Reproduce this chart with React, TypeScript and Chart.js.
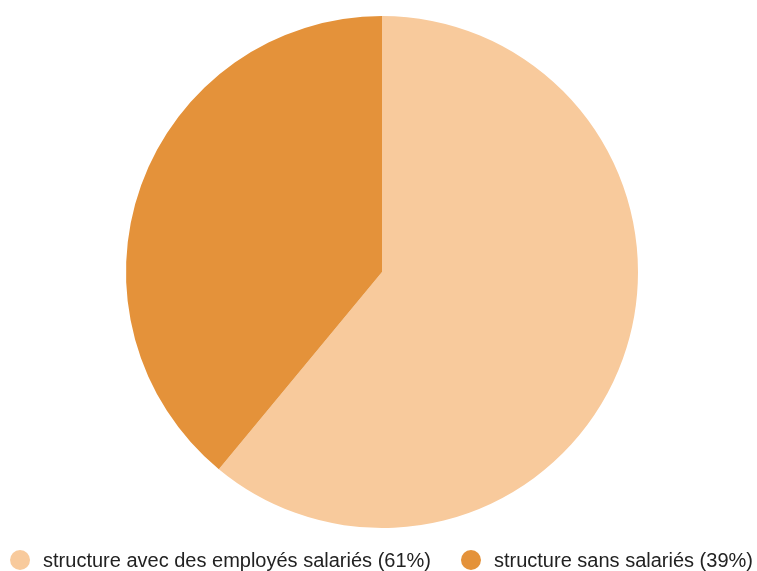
import React, { useEffect, useRef } from "react";
import { Chart, registerables } from "chart.js";

Chart.register(...registerables);

const categories = [
  "structure avec des employés salariés (61%)",
  "structure sans salariés (39%)",
];
const values = [61, 39];
const colors = ["#F8CA9C", "#E4923A"];

const legendPlugin = {
  id: "customLegend",
  afterDraw(chart: any) {
    const ctx = chart.ctx;
    const font = "20px 'Liberation Sans', Arial, sans-serif";
    ctx.save();
    ctx.font = font;
    const r = 10;
    const textGap = 23;
    const itemGap = 40;
    const widths = categories.map((c) => ctx.measureText(c).width);
    let total = r;
    widths.forEach((w, i) => {
      total += textGap + w;
      if (i < widths.length - 1) total += itemGap;
    });
    const y = 560;
    let cx = (chart.width - total) / 2 + 3 + r;
    categories.forEach((c, i) => {
      ctx.beginPath();
      ctx.arc(cx, y, r, 0, Math.PI * 2);
      ctx.fillStyle = colors[i];
      ctx.fill();
      ctx.fillStyle = "#222222";
      ctx.textBaseline = "middle";
      ctx.textAlign = "left";
      ctx.fillText(c, cx + textGap, y + 1);
      cx = cx + textGap + widths[i] + itemGap;
    });
    ctx.restore();
  },
};

export default function App() {
  const ref = useRef<HTMLCanvasElement>(null);
  useEffect(() => {
    const chart = new Chart(ref.current as HTMLCanvasElement, {
      type: "pie",
      data: {
        labels: categories,
        datasets: [
          {
            data: values,
            backgroundColor: colors,
            borderWidth: 0,
          },
        ],
      },
      options: {
        animation: false,
        responsive: false,
        maintainAspectRatio: false,
        layout: { padding: { top: 16, bottom: 43, left: 7, right: 0 } },
        plugins: {
          legend: { display: false },
          tooltip: { enabled: false },
        },
      },
      plugins: [legendPlugin],
    });
    return () => chart.destroy();
  }, []);
  return (
    <div style={{ position: "absolute", left: 0, top: 0, width: 757, height: 571, background: "#fff" }}>
      <canvas ref={ref} width={757} height={571} style={{ width: 757, height: 571 }} />
    </div>
  );
}
